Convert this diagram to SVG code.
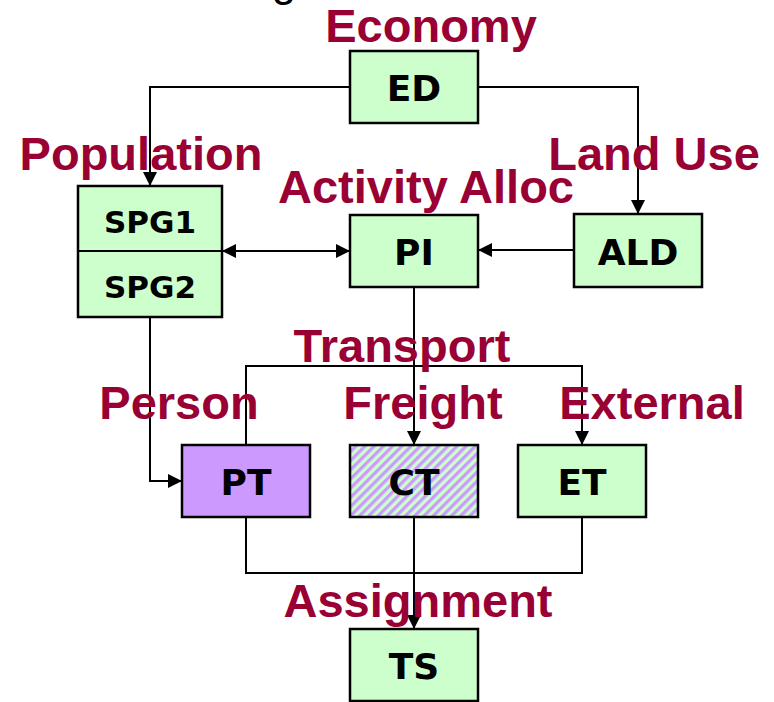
<svg xmlns="http://www.w3.org/2000/svg" width="774" height="702" viewBox="0 0 774 702">
  <style>
    .box { fill: #ccffcc; stroke: #000; stroke-width: 2.5; }
    .node { font-family: "DejaVu Sans", Verdana, sans-serif; font-weight: bold; font-size: 36px; fill: #000; text-anchor: middle; }
    .small { font-size: 31px; }
    .lbl { font-family: "Liberation Sans", Arial, sans-serif; font-weight: bold; font-size: 47px; fill: #990033; text-anchor: middle; }
    .wire { fill: none; stroke: #000; stroke-width: 2; }
    .arr { marker-end: url(#head); }
  </style>
  <defs>
    <marker id="head" viewBox="0 0 14 14" refX="14" refY="7" markerWidth="14" markerHeight="14" markerUnits="userSpaceOnUse" orient="auto-start-reverse">
      <path d="M0,0 L14,7 L0,14 Z" fill="#000"/>
    </marker>
    <pattern id="hatch" width="6.5" height="6.5" patternUnits="userSpaceOnUse" patternTransform="rotate(45)">
      <rect width="6.5" height="6.5" fill="#ccffcc"/>
      <rect width="3.2" height="6.5" fill="#cc99ff"/>
    </pattern>
  </defs>

  <!-- descender of a heading above the drawing area -->
  <text x="284" y="-4" font-family="Liberation Sans, Arial, sans-serif" font-size="44" text-anchor="middle" fill="#000">g</text>

  <!-- connectors -->
  <g id="connectors">
    <polyline class="wire arr" points="350,87 150,87 150,186"/>
    <polyline class="wire arr" points="478,87 638,87 638,214"/>
    <line class="wire arr" x1="574" y1="250" x2="478" y2="250"/>
    <line class="wire" x1="222" y1="251" x2="350" y2="251" marker-start="url(#head)" marker-end="url(#head)"/>
    <line class="wire arr" x1="414" y1="287" x2="414" y2="445"/>
    <polyline class="wire arr" points="246,445 246,366 582,366 582,445"/>
    <polyline class="wire arr" points="150,317 150,481 182,481"/>
    <polyline class="wire" points="246,517 246,573 582,573 582,517"/>
    <line class="wire arr" x1="414" y1="517" x2="414" y2="629"/>
  </g>

  <!-- group labels -->
  <text class="lbl" x="431" y="42">Economy</text>
  <text class="lbl" x="141" y="170">Population</text>
  <text class="lbl" x="654" y="170">Land Use</text>
  <text class="lbl" x="426" y="203">Activity Alloc</text>
  <text class="lbl" x="402" y="362">Transport</text>
  <text class="lbl" x="179" y="419">Person</text>
  <text class="lbl" x="423" y="419">Freight</text>
  <text class="lbl" x="652" y="419">External</text>
  <text class="lbl" x="418" y="617">Assignment</text>

  <!-- nodes -->
  <g id="ED">
    <rect class="box" x="350" y="51" width="128" height="72"/>
    <text class="node" x="414" y="101">ED</text>
  </g>
  <g id="SPG">
    <rect class="box" x="78" y="186" width="144" height="131"/>
    <line x1="78" y1="251" x2="222" y2="251" stroke="#000" stroke-width="2"/>
    <text class="node small" x="150" y="233">SPG1</text>
    <text class="node small" x="150" y="298">SPG2</text>
  </g>
  <g id="PI">
    <rect class="box" x="350" y="215" width="128" height="72"/>
    <text class="node" x="414" y="265">PI</text>
  </g>
  <g id="ALD">
    <rect class="box" x="574" y="214" width="128" height="73"/>
    <text class="node" x="638" y="265">ALD</text>
  </g>
  <g id="PT">
    <rect class="box" x="182" y="445" width="128" height="72" style="fill:#cc99ff"/>
    <text class="node" x="246" y="495">PT</text>
  </g>
  <g id="CT">
    <rect class="box" x="350" y="445" width="128" height="72" style="fill:url(#hatch)"/>
    <text class="node" x="414" y="495">CT</text>
  </g>
  <g id="ET">
    <rect class="box" x="518" y="445" width="128" height="72"/>
    <text class="node" x="582" y="495">ET</text>
  </g>
  <g id="TS">
    <rect class="box" x="350" y="629" width="128" height="72"/>
    <text class="node" x="414" y="679">TS</text>
  </g>
</svg>
